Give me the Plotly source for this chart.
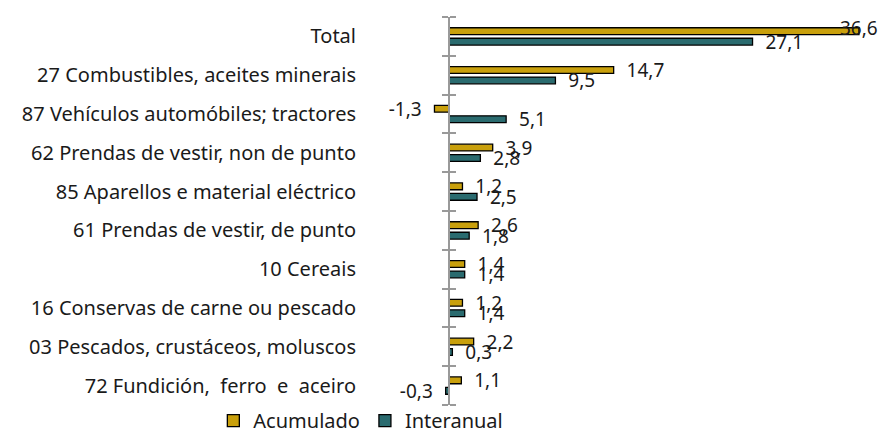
import plotly.graph_objects as go

categories = [
    "Total",
    "27 Combustibles, aceites minerais",
    "87 Vehículos automóbiles; tractores",
    "62 Prendas de vestir, non de punto",
    "85 Aparellos e material eléctrico",
    "61 Prendas de vestir, de punto",
    "10 Cereais",
    "16 Conservas de carne ou pescado",
    "03 Pescados, crustáceos, moluscos",
    "72 Fundición,  ferro  e  aceiro",
]
acumulado = [36.6, 14.7, -1.3, 3.9, 1.2, 2.6, 1.4, 1.2, 2.2, 1.1]
interanual = [27.1, 9.5, 5.1, 2.8, 2.5, 1.8, 1.4, 1.4, 0.3, -0.3]

GOLD = "#C9A00C"
TEAL = "#2A6B6F"
FONT = "Noto Sans"
TXT = "#1a1a1a"
NB = "\u00a0\u00a0"

def fmt(v):
    s = f"{v:.1f}".replace(".", ",")
    return s + NB if v < 0 else NB + s

xmin, xmax = -7.77, 38.48
zero_pos = (0 - xmin) / (xmax - xmin)
n = len(categories)
vmax = max(acumulado + interanual)

fig = go.Figure()
for name, vals, col in [("Acumulado", acumulado, GOLD), ("Interanual", interanual, TEAL)]:
    fig.add_trace(go.Bar(
        y=categories, x=vals, orientation="h", name=name,
        marker=dict(color=col, line=dict(color="#000000", width=1.3)),
        text=["" if v == vmax else fmt(v) for v in vals],
        textposition="outside",
        textfont=dict(family=FONT, size=19, color=TXT),
        cliponaxis=False, constraintext="none",
    ))
    for v, c in zip(vals, categories):
        if v == vmax:
            fig.add_annotation(x=v, y=c, text=fmt(v).strip("\u00a0"), showarrow=False,
                               xanchor="center", yanchor="middle", yshift=8,
                               font=dict(family=FONT, size=19, color=TXT))

# invisible helpers to draw the zero axis with crossing ticks
for ax in ["y2", "y3"]:
    fig.add_trace(go.Scatter(x=[0], y=[0], yaxis=ax, mode="markers",
                             marker=dict(opacity=0), showlegend=False, hoverinfo="skip"))

bounds = [i - 0.5 for i in range(n + 1)]
common = dict(overlaying="y", anchor="free", position=zero_pos, range=[n - 0.5, -0.5],
              showline=True, linecolor="#999999", linewidth=2, tickvals=bounds,
              ticklen=6, tickwidth=2, tickcolor="#999999", showticklabels=False,
              showgrid=False, zeroline=False, automargin=False)

fig.update_layout(
    width=886, height=432,
    margin=dict(l=362, r=6, t=17, b=27, autoexpand=False),
    paper_bgcolor="white", plot_bgcolor="white",
    barmode="group", bargap=0.46, bargroupgap=0.35,
    font=dict(family=FONT, size=19, color=TXT),
    xaxis=dict(range=[xmin, xmax], visible=False, automargin=False),
    yaxis=dict(type="category", categoryorder="array", categoryarray=categories,
               range=[n - 0.5, -0.5], showline=False, showgrid=False, ticks="",
               ticklabelstandoff=5, automargin=False,
               tickfont=dict(family=FONT, size=20, color=TXT)),
    yaxis2=dict(side="left", ticks="outside", **common),
    yaxis3=dict(side="right", ticks="outside", **common),
    showlegend=True,
    legend=dict(orientation="h", x=-0.287, xanchor="left", y=0.01, yanchor="top",
                font=dict(family=FONT, size=20, color=TXT), traceorder="normal",
                itemwidth=30, bgcolor="rgba(0,0,0,0)"),
)
fig.write_html("out.html", config={"displayModeBar": False},
               post_script="document.body.style.margin='0';document.body.style.overflow='hidden';")
